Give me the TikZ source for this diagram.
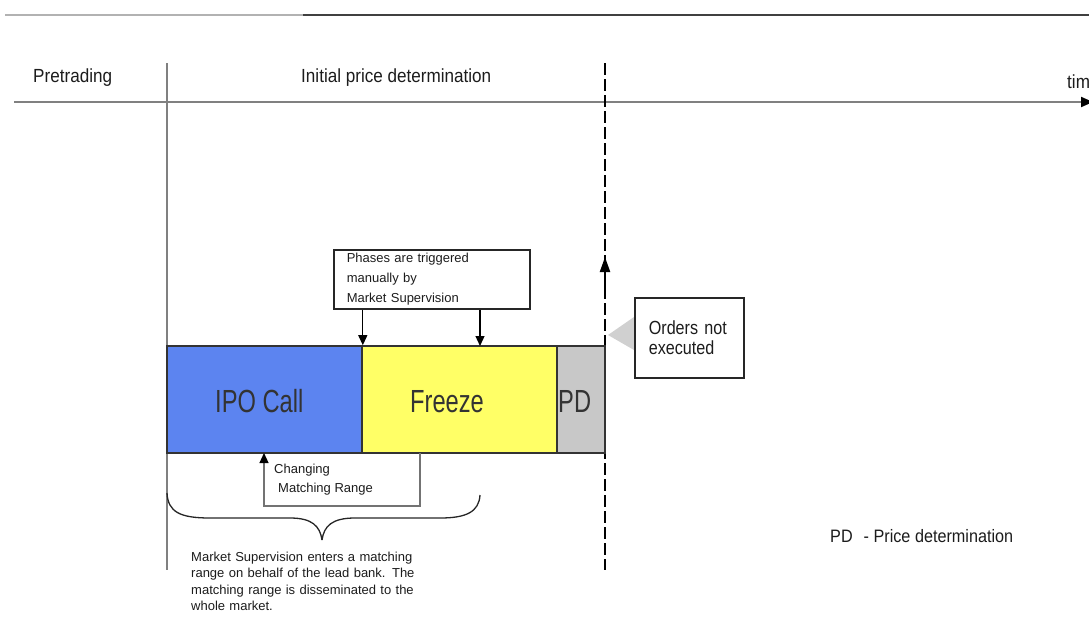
\documentclass[tikz,border=0pt]{standalone}
\usepackage{fontspec}
\setmainfont{Liberation Sans}
\newfontfamily\headfont{Liberation Sans}[FakeStretch=0.9]
\newfontfamily\phasefont{Liberation Sans}[FakeStretch=0.74]
\newfontfamily\orderfont{Liberation Sans}[FakeStretch=0.85]
\usetikzlibrary{arrows.meta}
\definecolor{ipoblue}{RGB}{92,132,240}
\definecolor{freezeyellow}{RGB}{255,255,102}
\definecolor{pdgray}{RGB}{200,200,200}
\definecolor{calloutgray}{RGB}{208,208,208}
\definecolor{textgray}{RGB}{28,28,28}
\begin{document}
\begin{tikzpicture}
[x=1pt,y=-1pt,
  phasedecorate/.style={shape=rectangle,draw=black!80,line width=1.6pt,minimum height=107pt,inner sep=0pt},%
  phaselabel/.style={anchor=base west,inner sep=0pt,text=black!80,font=\phasefont\fontsize{32}{36}\selectfont},%
  notedecorate/.style={shape=rectangle,draw=black!85,line width=1.6pt,inner sep=0pt,anchor=north west,align=left,text=textgray},%
  headdecorate/.style={anchor=base west,inner sep=0pt,text=textgray,font=\headfont\fontsize{19}{22}\selectfont},%
  smalldecorate/.style={anchor=north west,inner sep=0pt,text=textgray,align=left},%
  arrowdecorate/.style={-{Triangle[length=10pt,width=9pt,color=black]},line width=1.2pt}]
\useasboundingbox (0,0) rectangle (1089,641);
%% frame and time axis
\coordinate (topleft) at (5,15);
\coordinate (topmid) at (303,15);
\coordinate (topright) at (1089,15);
\draw[gray!60,line width=2.4pt] (topleft) -- (topmid);
\draw[black!75,line width=2.4pt] (topmid) -- (topright);
\coordinate (axisstart) at (14,102);
\coordinate (axisend) at (1093,102);
\draw[gray,line width=2pt,-{Triangle[length=12pt,width=10pt,color=black]}] (axisstart) -- (axisend);
\coordinate (pretop) at (167,63);
\coordinate (prebottom) at (167,570);
\draw[gray,line width=1.5pt] (pretop) -- (prebottom);
\coordinate (pdtop) at (605,63);
\coordinate (pdbottom) at (605,570);
\draw[black,line width=2.2pt,dash pattern=on 12pt off 4pt] (pdtop) -- (pdbottom);
%% header texts
\node (pretrading) at (33,82) [headdecorate] {Pretrading};
\node (initial) at (301,82) [headdecorate] {Initial price determination};
\node (time) at (1067,88) [headdecorate] {time};
%% phases
\foreach \nodename/\x/\w/\col in {ipo/264.5/195/ipoblue, freeze/459.5/195/freezeyellow, pd/581/48/pdgray} {
  \node (\nodename) at (\x,399.5) [phasedecorate,fill=\col,minimum width=\w pt] {};
}
\foreach \nodename/\x/\txt in {ipolabel/215/IPO Call, freezelabel/410/Freeze, pdlabel/558/PD} {
  \node (\nodename) at (\x,412) [phaselabel] {\txt};
}
%% trigger note
\node (phases) at (333,249) [notedecorate,minimum width=196pt,minimum height=59pt,text width=170pt,%
  font=\fontsize{13}{20}\selectfont] {Phases are triggered\\manually by\\Market Supervision};
\coordinate (trigger) at (480,346);
\draw[arrowdecorate] (phases.south -| ipo.north east) -- (ipo.north east);
\draw[arrowdecorate] (phases.south -| trigger) -- (trigger);
%% end of price determination
\coordinate (pdarrowfoot) at (605,290);
\coordinate (pdarrow) at (605,257);
\draw[-{Triangle[length=15pt,width=10pt,color=black]},line width=2.2pt] (pdarrowfoot) -- (pdarrow);
\coordinate (calloutA) at (634,317);
\coordinate (calloutB) at (634,350);
\coordinate (callouttip) at (608,335);
\fill[calloutgray] (calloutA) -- (callouttip) -- (calloutB) -- cycle;
\node (orders) at (634,297) [notedecorate,minimum width=109pt,minimum height=80pt,text width=81pt,%
  font=\orderfont\fontsize{19}{20}\selectfont] {Orders not\\executed};
%% matching range
\coordinate (rangeright) at (420,453);
\coordinate (rangeleft) at (264,453);
\draw[arrowdecorate,draw=black!55] (rangeright) -- ++(0,53) -| (rangeleft);
\node (rangetext) at (274,463.5) [smalldecorate,font=\fontsize{13}{19}\selectfont] {Changing\\\hspace{4pt}Matching Range};
%% brace and its note
\coordinate (braceleft) at (167,493);
\coordinate (braceright) at (480,495);
\coordinate (bracetip) at (322,540);
\draw[line width=1.3pt,black!85] (braceleft) .. controls (168,512) and (180,518) .. (210,518) -- (290,518)
  .. controls (312,518) and (320,526) .. (bracetip);
\draw[line width=1.3pt,black!85] (braceright) .. controls (479,512) and (466,518) .. (440,518) -- (355,518)
  .. controls (332,518) and (324,526) .. (bracetip);
\node (bracetext) at (191,551.5) [smalldecorate,text width=230pt,font=\fontsize{13}{16.5}\selectfont]
  {Market Supervision enters a matching\\range on behalf of the lead bank. The\\matching range is disseminated to the\\whole market.};
%% legend
\node (legend) at (830,542) [headdecorate,font=\headfont\fontsize{18}{22}\selectfont] {PD\hspace{11pt}- Price determination};
\end{tikzpicture}
\end{document}
